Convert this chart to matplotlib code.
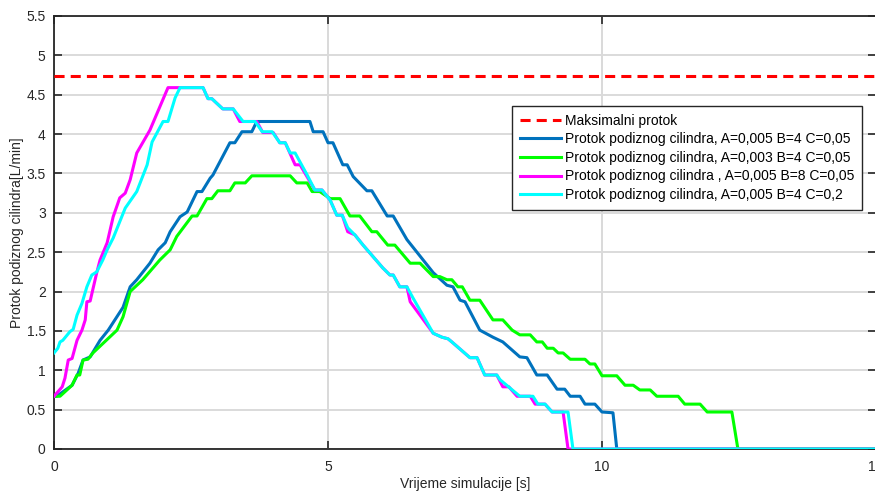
import matplotlib
matplotlib.use("Agg")
import matplotlib.pyplot as plt

plt.rcParams['font.family'] = ['Liberation Sans', 'DejaVu Sans']

max_flow = 4.74

blue_x = [0.0, 0.05, 0.33, 0.44, 0.53, 0.66, 0.84, 0.99, 1.26, 1.39, 1.51, 1.75, 1.90, 2.03, 2.12,
          2.30, 2.43, 2.61, 2.70, 2.85, 2.90, 3.21, 3.30, 3.43, 3.61, 3.70, 4.67, 4.73, 4.91, 5.00,
          5.09, 5.27, 5.35, 5.46, 5.71, 5.80, 6.08, 6.19, 6.44, 6.92, 7.17, 7.28, 7.41, 7.50, 7.77,
          8.01, 8.19, 8.50, 8.63, 8.81, 9.00, 9.18, 9.32, 9.42, 9.60, 9.69, 9.87, 10.00, 10.20,
          10.27, 15.0]
blue_y = [0.67, 0.67, 0.81, 0.96, 1.13, 1.17, 1.38, 1.51, 1.80, 2.06, 2.15, 2.36, 2.53, 2.62, 2.76,
          2.95, 3.01, 3.27, 3.27, 3.44, 3.48, 3.89, 3.89, 4.03, 4.03, 4.16, 4.16, 4.03, 4.03, 3.89,
          3.89, 3.61, 3.61, 3.46, 3.28, 3.28, 2.96, 2.96, 2.66, 2.24, 2.08, 2.06, 1.89, 1.87, 1.51,
          1.42, 1.36, 1.17, 1.16, 0.94, 0.94, 0.76, 0.76, 0.67, 0.67, 0.57, 0.57, 0.47, 0.46,
          0.0, 0.0]

green_x = [0.0, 0.11, 0.33, 0.42, 0.47, 0.53, 0.62, 0.71, 1.15, 1.26, 1.39, 1.62, 1.93, 2.12, 2.24,
           2.52, 2.61, 2.79, 2.88, 2.99, 3.21, 3.30, 3.49, 3.61, 4.31, 4.43, 4.62, 4.71, 4.85, 5.04,
           5.22, 5.40, 5.58, 5.80, 5.89, 6.09, 6.22, 6.50, 6.68, 6.92, 7.04, 7.17, 7.26, 7.37, 7.45,
           7.59, 7.77, 8.01, 8.19, 8.36, 8.50, 8.69, 8.81, 8.91, 9.00, 9.11, 9.20, 9.29, 9.42, 9.69,
           9.78, 9.87, 10.00, 10.27, 10.42, 10.57, 10.69, 10.88, 11.00, 11.39, 11.51, 11.79, 11.92,
           12.37, 12.48, 15.0]
green_y = [0.67, 0.67, 0.81, 0.94, 0.94, 1.13, 1.14, 1.22, 1.51, 1.68, 2.00, 2.15, 2.40, 2.53, 2.70,
           2.96, 2.96, 3.18, 3.18, 3.28, 3.28, 3.38, 3.38, 3.47, 3.47, 3.38, 3.38, 3.27, 3.27, 3.18,
           3.18, 2.96, 2.96, 2.76, 2.76, 2.59, 2.59, 2.36, 2.36, 2.19, 2.19, 2.15, 2.15, 2.06, 2.06,
           1.89, 1.89, 1.64, 1.64, 1.51, 1.45, 1.45, 1.36, 1.36, 1.28, 1.28, 1.22, 1.22, 1.14, 1.14,
           1.08, 1.08, 0.93, 0.93, 0.81, 0.81, 0.75, 0.75, 0.67, 0.67, 0.57, 0.57, 0.47,
           0.47, 0.0, 0.0]

magenta_x = [0.0, 0.15, 0.20, 0.26, 0.33, 0.42, 0.51, 0.57, 0.60, 0.66, 0.78, 0.84, 0.97, 1.08, 1.20,
             1.30, 1.39, 1.51, 1.75, 2.08, 2.72, 2.81, 2.88, 3.08, 3.27, 3.39, 3.70, 3.81, 4.00, 4.12,
             4.22, 4.40, 4.49, 4.76, 4.89, 5.04, 5.16, 5.26, 5.36, 5.49, 5.64, 6.00, 6.13, 6.19, 6.31,
             6.44, 6.50, 6.92, 7.08, 7.19, 7.26, 7.59, 7.72, 7.86, 8.08, 8.19, 8.30, 8.45, 8.69, 8.78,
             8.96, 9.09, 9.29, 9.38, 15.0]
magenta_y = [0.67, 0.79, 0.90, 1.13, 1.15, 1.38, 1.51, 1.64, 1.87, 1.88, 2.24, 2.40, 2.62, 2.95, 3.19,
             3.25, 3.42, 3.76, 4.05, 4.59, 4.59, 4.45, 4.45, 4.32, 4.32, 4.16, 4.16, 4.02, 4.02, 3.89,
             3.89, 3.61, 3.61, 3.29, 3.29, 3.16, 2.97, 2.97, 2.76, 2.72, 2.59, 2.30, 2.21, 2.21, 2.06,
             2.06, 1.87, 1.47, 1.42, 1.40, 1.36, 1.16, 1.16, 0.94, 0.94, 0.79, 0.79, 0.67, 0.67, 0.57,
             0.57, 0.47, 0.47, 0.0, 0.0]

cyan_x = [0.0, 0.07, 0.11, 0.16, 0.29, 0.35, 0.42, 0.51, 0.60, 0.69, 0.78, 0.89, 0.97, 1.08, 1.30,
          1.51, 1.70, 1.79, 1.99, 2.08, 2.21, 2.30, 2.72, 2.81, 2.88, 3.08, 3.27, 3.45, 3.67, 3.80,
          3.98, 4.12, 4.22, 4.31, 4.40, 4.62, 4.76, 4.89, 5.04, 5.16, 5.26, 5.36, 5.49, 5.64, 6.00,
          6.13, 6.19, 6.31, 6.44, 6.55, 6.92, 7.08, 7.19, 7.26, 7.59, 7.72, 7.86, 8.08, 8.14, 8.50,
          8.74, 8.83, 8.96, 9.09, 9.38, 9.47, 15.0]
cyan_y = [1.22, 1.28, 1.36, 1.38, 1.49, 1.52, 1.70, 1.85, 2.06, 2.21, 2.25, 2.40, 2.53, 2.68, 3.06,
          3.27, 3.61, 3.90, 4.16, 4.16, 4.46, 4.59, 4.59, 4.45, 4.45, 4.32, 4.32, 4.16, 4.16, 4.03,
          4.03, 3.89, 3.89, 3.76, 3.76, 3.48, 3.29, 3.29, 3.16, 2.97, 2.97, 2.81, 2.72, 2.59, 2.30,
          2.21, 2.21, 2.06, 2.06, 1.92, 1.47, 1.42, 1.40, 1.36, 1.16, 1.16, 0.94, 0.94, 0.88, 0.67,
          0.67, 0.57, 0.57, 0.47, 0.47, 0.0, 0.0]

labels = ["Maksimalni protok",
          "Protok podiznog cilindra, A=0,005 B=4 C=0,05",
          "Protok podiznog cilindra, A=0,003 B=4 C=0,05",
          "Protok podiznog cilindra , A=0,005 B=8 C=0,05",
          "Protok podiznog cilindra, A=0,005 B=4 C=0,2"]

x_ticks = [0, 5, 10, 15]
y_ticks = [0, 0.5, 1, 1.5, 2, 2.5, 3, 3.5, 4, 4.5, 5, 5.5]
y_tick_labels = ["0", "0.5", "1", "1.5", "2", "2.5", "3", "3.5", "4", "4.5", "5", "5.5"]

fig = plt.figure(figsize=(8.75, 4.91), dpi=100)
ax = fig.add_axes([54/875, 1 - 449/491, (876 - 54)/875, (449 - 16)/491])

lw = 2.2
ax.axhline(max_flow, color='#FF0000', lw=lw, ls=(0, (3.3, 2.0)), label=labels[0], zorder=3)
ax.plot(blue_x, blue_y, color='#0072BD', lw=lw, label=labels[1], zorder=3)
ax.plot(green_x, green_y, color='#00FF00', lw=lw, label=labels[2], zorder=3)
ax.plot(magenta_x, magenta_y, color='#FF00FF', lw=lw, label=labels[3], zorder=3)
ax.plot(cyan_x, cyan_y, color='#00FFFF', lw=lw, label=labels[4], zorder=3)

ax.set_xlim(0, 15)
ax.set_ylim(0, 5.5)
ax.set_xticks(x_ticks)
ax.set_yticks(y_ticks)
ax.set_yticklabels(y_tick_labels)

ax.yaxis.grid(True, color='#dadada', lw=1.4)
ax.xaxis.grid(True, color='#cfcfcf', lw=1.1)
ax.set_axisbelow(True)

ax.tick_params(direction='in', length=6, width=1.2, colors='#262626', labelsize=10,
               top=True, right=True, pad=6)
ax.tick_params(axis='x', pad=8)
for s in ax.spines.values():
    s.set_linewidth(1.3)
    s.set_color('#262626')

ax.set_xlabel("Vrijeme simulacije [s]", fontsize=10, color='#262626', labelpad=2)
ax.set_ylabel("Protok podiznog cilindra[L/min]", fontsize=10, color='#262626', labelpad=2)

leg = ax.legend(loc='upper left', bbox_to_anchor=(512/875, 1 - 106/491), bbox_transform=fig.transFigure,
                fontsize=10, frameon=True, fancybox=False, framealpha=1, edgecolor='#262626',
                handlelength=3.0, labelspacing=0.33, handletextpad=0.3, borderpad=0.55,
                borderaxespad=0)
leg.get_frame().set_linewidth(1.0)

fig.savefig("out.png", dpi=100)
